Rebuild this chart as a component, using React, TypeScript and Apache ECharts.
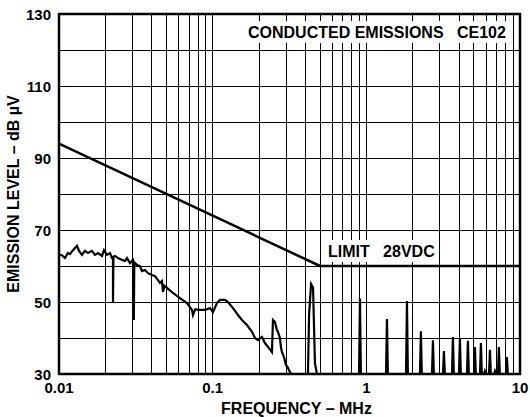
import React, { useEffect, useRef } from 'react';
import * as echarts from 'echarts';

// Axis tick labels
const xTickLabels = ['0.01', '0.1', '1', '10'];
const yTickLabels = [30, 50, 70, 90, 110, 130];

// Minor (non-decade) vertical grid frequencies, MHz
const minorGridFreqs = [
  0.02, 0.03, 0.04, 0.05, 0.06, 0.07, 0.08, 0.09,
  0.2, 0.3, 0.4, 0.5, 0.6, 0.7, 0.8, 0.9,
  2, 3, 4, 5, 6, 7, 8, 9,
];

// Limit line (28VDC)
const limitFreq = [0.01, 0.5, 10];
const limitLevel = [94, 60, 60];

// Measured broadband emission trace (MHz, dBµV)
const traceFreq = [
  0.01, 0.01046, 0.01094, 0.01144, 0.01179, 0.01233, 0.0131, 0.0135, 0.01411, 0.01476,
  0.01544, 0.01639, 0.01715, 0.01794, 0.01905, 0.01963, 0.02053, 0.02147, 0.02213, 0.02246,
  0.02246, 0.0226, 0.02314, 0.02421, 0.0257, 0.02688, 0.0277, 0.02897, 0.0303, 0.0306,
  0.0307, 0.0309, 0.03218, 0.03365, 0.03467, 0.03627, 0.03794, 0.04028, 0.04213, 0.04407,
  0.04541, 0.04679, 0.0475, 0.0485, 0.05043, 0.05517, 0.06126, 0.06804, 0.07335, 0.07445,
  0.077, 0.08021, 0.0891, 0.09604, 0.10045, 0.1067, 0.1116, 0.1203, 0.1258, 0.1356,
  0.1461, 0.1551, 0.1672, 0.1802, 0.1885, 0.1971, 0.2093, 0.2189, 0.2324, 0.2431,
  0.2468, 0.2543, 0.262, 0.266, 0.2741, 0.2782, 0.2824, 0.291, 0.2999, 0.309,
  0.3184, 0.3281, 0.417, 0.424, 0.437, 0.45, 0.463, 0.477,
];
const traceLevel = [
  63.1, 63.0, 62.2, 63.6, 63.3, 64.4, 65.6, 64.2, 63.1, 64.2,
  63.6, 64.2, 63.1, 63.6, 62.8, 64.4, 63.1, 63.6, 62.2, 62.2,
  50.0, 62.6, 62.8, 62.2, 61.7, 61.4, 62.2, 60.8, 61.7, 61.2,
  45.0, 61.0, 60.3, 60.0, 58.6, 58.9, 58.0, 57.5, 57.2, 56.1,
  55.3, 55.8, 52.8, 54.5, 53.9, 52.5, 51.1, 49.7, 47.8, 46.4,
  48.0, 47.8, 47.8, 48.3, 47.2, 49.7, 50.6, 50.6, 50.0, 48.3,
  46.4, 45.0, 43.6, 41.7, 40.0, 39.4, 40.3, 38.6, 37.2, 36.1,
  45.0, 44.4, 42.2, 41.7, 40.0, 37.5, 36.1, 34.7, 32.5, 31.7,
  30.5, 30.0, 30.0, 46.5, 55.0, 54.0, 33.0, 30.0,
];

// Narrowband harmonic spikes above the noise floor
const harmonicFreq = [0.909, 1.362, 1.838, 2.265, 2.713, 3.198, 3.66, 4.064, 4.582, 5.088, 5.567, 5.907, 6.372, 6.866, 7.29, 8.217];
const harmonicPeak = [51.0, 45.3, 50.3, 41.9, 39.4, 36.4, 40.3, 40.0, 39.2, 37.5, 38.6, 30.8, 36.7, 30.8, 37.5, 34.7];
const floorLevel = 30;
const endFreq = 10;

const FONT = 'Arial, "Liberation Sans", Helvetica, sans-serif';

export default function App() {
  const ref = useRef<HTMLDivElement>(null);

  useEffect(() => {
    if (!ref.current) return;
    const chart = echarts.init(ref.current, undefined, { renderer: 'svg' });

    const trace: [number, number][] = traceFreq.map((f, i) => [f, traceLevel[i]]);
    harmonicFreq.forEach((f, i) => {
      trace.push([f / 1.014, floorLevel]);
      trace.push([f, harmonicPeak[i]]);
      trace.push([f * 1.014, floorLevel]);
    });
    trace.push([endFreq, floorLevel]);

    const limit = limitFreq.map((f, i) => [f, limitLevel[i]]);

    const tickStyle = { color: '#000', fontFamily: FONT, fontWeight: 'bold' as const, fontSize: 15 };
    const nameStyle = { color: '#000', fontFamily: FONT, fontWeight: 'bold' as const, fontSize: 16 };
    const gridLine = { color: '#000', width: 1, type: 'solid' as const };

    chart.setOption({
      animation: false,
      backgroundColor: '#fff',
      grid: {
        left: 59, right: 10, top: 14, bottom: 43,
        outerBoundsMode: 'none',
        containLabel: false,
        show: true, borderColor: '#000', borderWidth: 2.5, backgroundColor: 'transparent',
      },
      xAxis: {
        type: 'log',
        logBase: 10,
        min: 0.01,
        max: 10,
        name: 'FREQUENCY – MHz',
        nameLocation: 'middle',
        nameGap: 26,
        nameTextStyle: { ...nameStyle, padding: [0, 0, 0, 14] },
        axisLine: { show: false },
        axisTick: { show: false },
        axisLabel: {
          ...tickStyle,
          margin: 6,
          formatter: (v: number) => {
            const s = String(+Number(v).toPrecision(3));
            return xTickLabels.includes(s) ? s : '';
          },
        },
        splitLine: { show: true, lineStyle: gridLine },
      },
      yAxis: {
        type: 'value',
        min: 30,
        max: 130,
        interval: 10,
        name: 'EMISSION LEVEL – dB µV',
        nameLocation: 'middle',
        nameGap: 38,
        nameMoveOverlap: false,
        nameRotate: 90,
        nameTextStyle: nameStyle,
        axisLine: { show: false },
        axisTick: { show: false },
        axisLabel: {
          ...tickStyle,
          margin: 8,
          formatter: (v: number) => (yTickLabels.includes(Math.round(v)) ? String(Math.round(v)) : ''),
        },
        splitLine: { show: true, lineStyle: gridLine },
      },
      series: [
        {
          type: 'line',
          name: 'limit',
          data: limit,
          showSymbol: false,
          symbol: 'none',
          silent: true,
          z: 3,
          lineStyle: { color: '#000', width: 2.5 },
          markLine: {
            silent: true,
            symbol: 'none',
            z: 1,
            label: { show: false },
            emphasis: { disabled: true },
            lineStyle: gridLine,
            data: minorGridFreqs.map((f) => ({ xAxis: f })),
          },
        },
        {
          type: 'line',
          name: 'emission',
          data: trace,
          showSymbol: false,
          symbol: 'none',
          silent: true,
          z: 4,
          lineStyle: { color: '#000', width: 2.2, join: 'miter' },
        },
      ],
      graphic: [
        {
          type: 'text',
          x: 245,
          y: 32,
          z: 100,
          style: {
            text: 'CONDUCTED EMISSIONS   CE102',
            fill: '#000',
            font: `bold 16px ${FONT}`,
            verticalAlign: 'middle',
            align: 'left',
            backgroundColor: '#fff',
            padding: [3, 3, 3, 3],
          },
        },
        {
          type: 'text',
          x: 325,
          y: 251,
          z: 100,
          style: {
            text: 'LIMIT   28VDC',
            fill: '#000',
            font: `bold 16px ${FONT}`,
            verticalAlign: 'middle',
            align: 'left',
            backgroundColor: '#fff',
            padding: [3, 3, 3, 3],
          },
        },
      ],
    });

    return () => chart.dispose();
  }, []);

  return (
    <div
      ref={ref}
      style={{ position: 'fixed', left: 0, top: 0, width: 530, height: 417 }}
    />
  );
}
